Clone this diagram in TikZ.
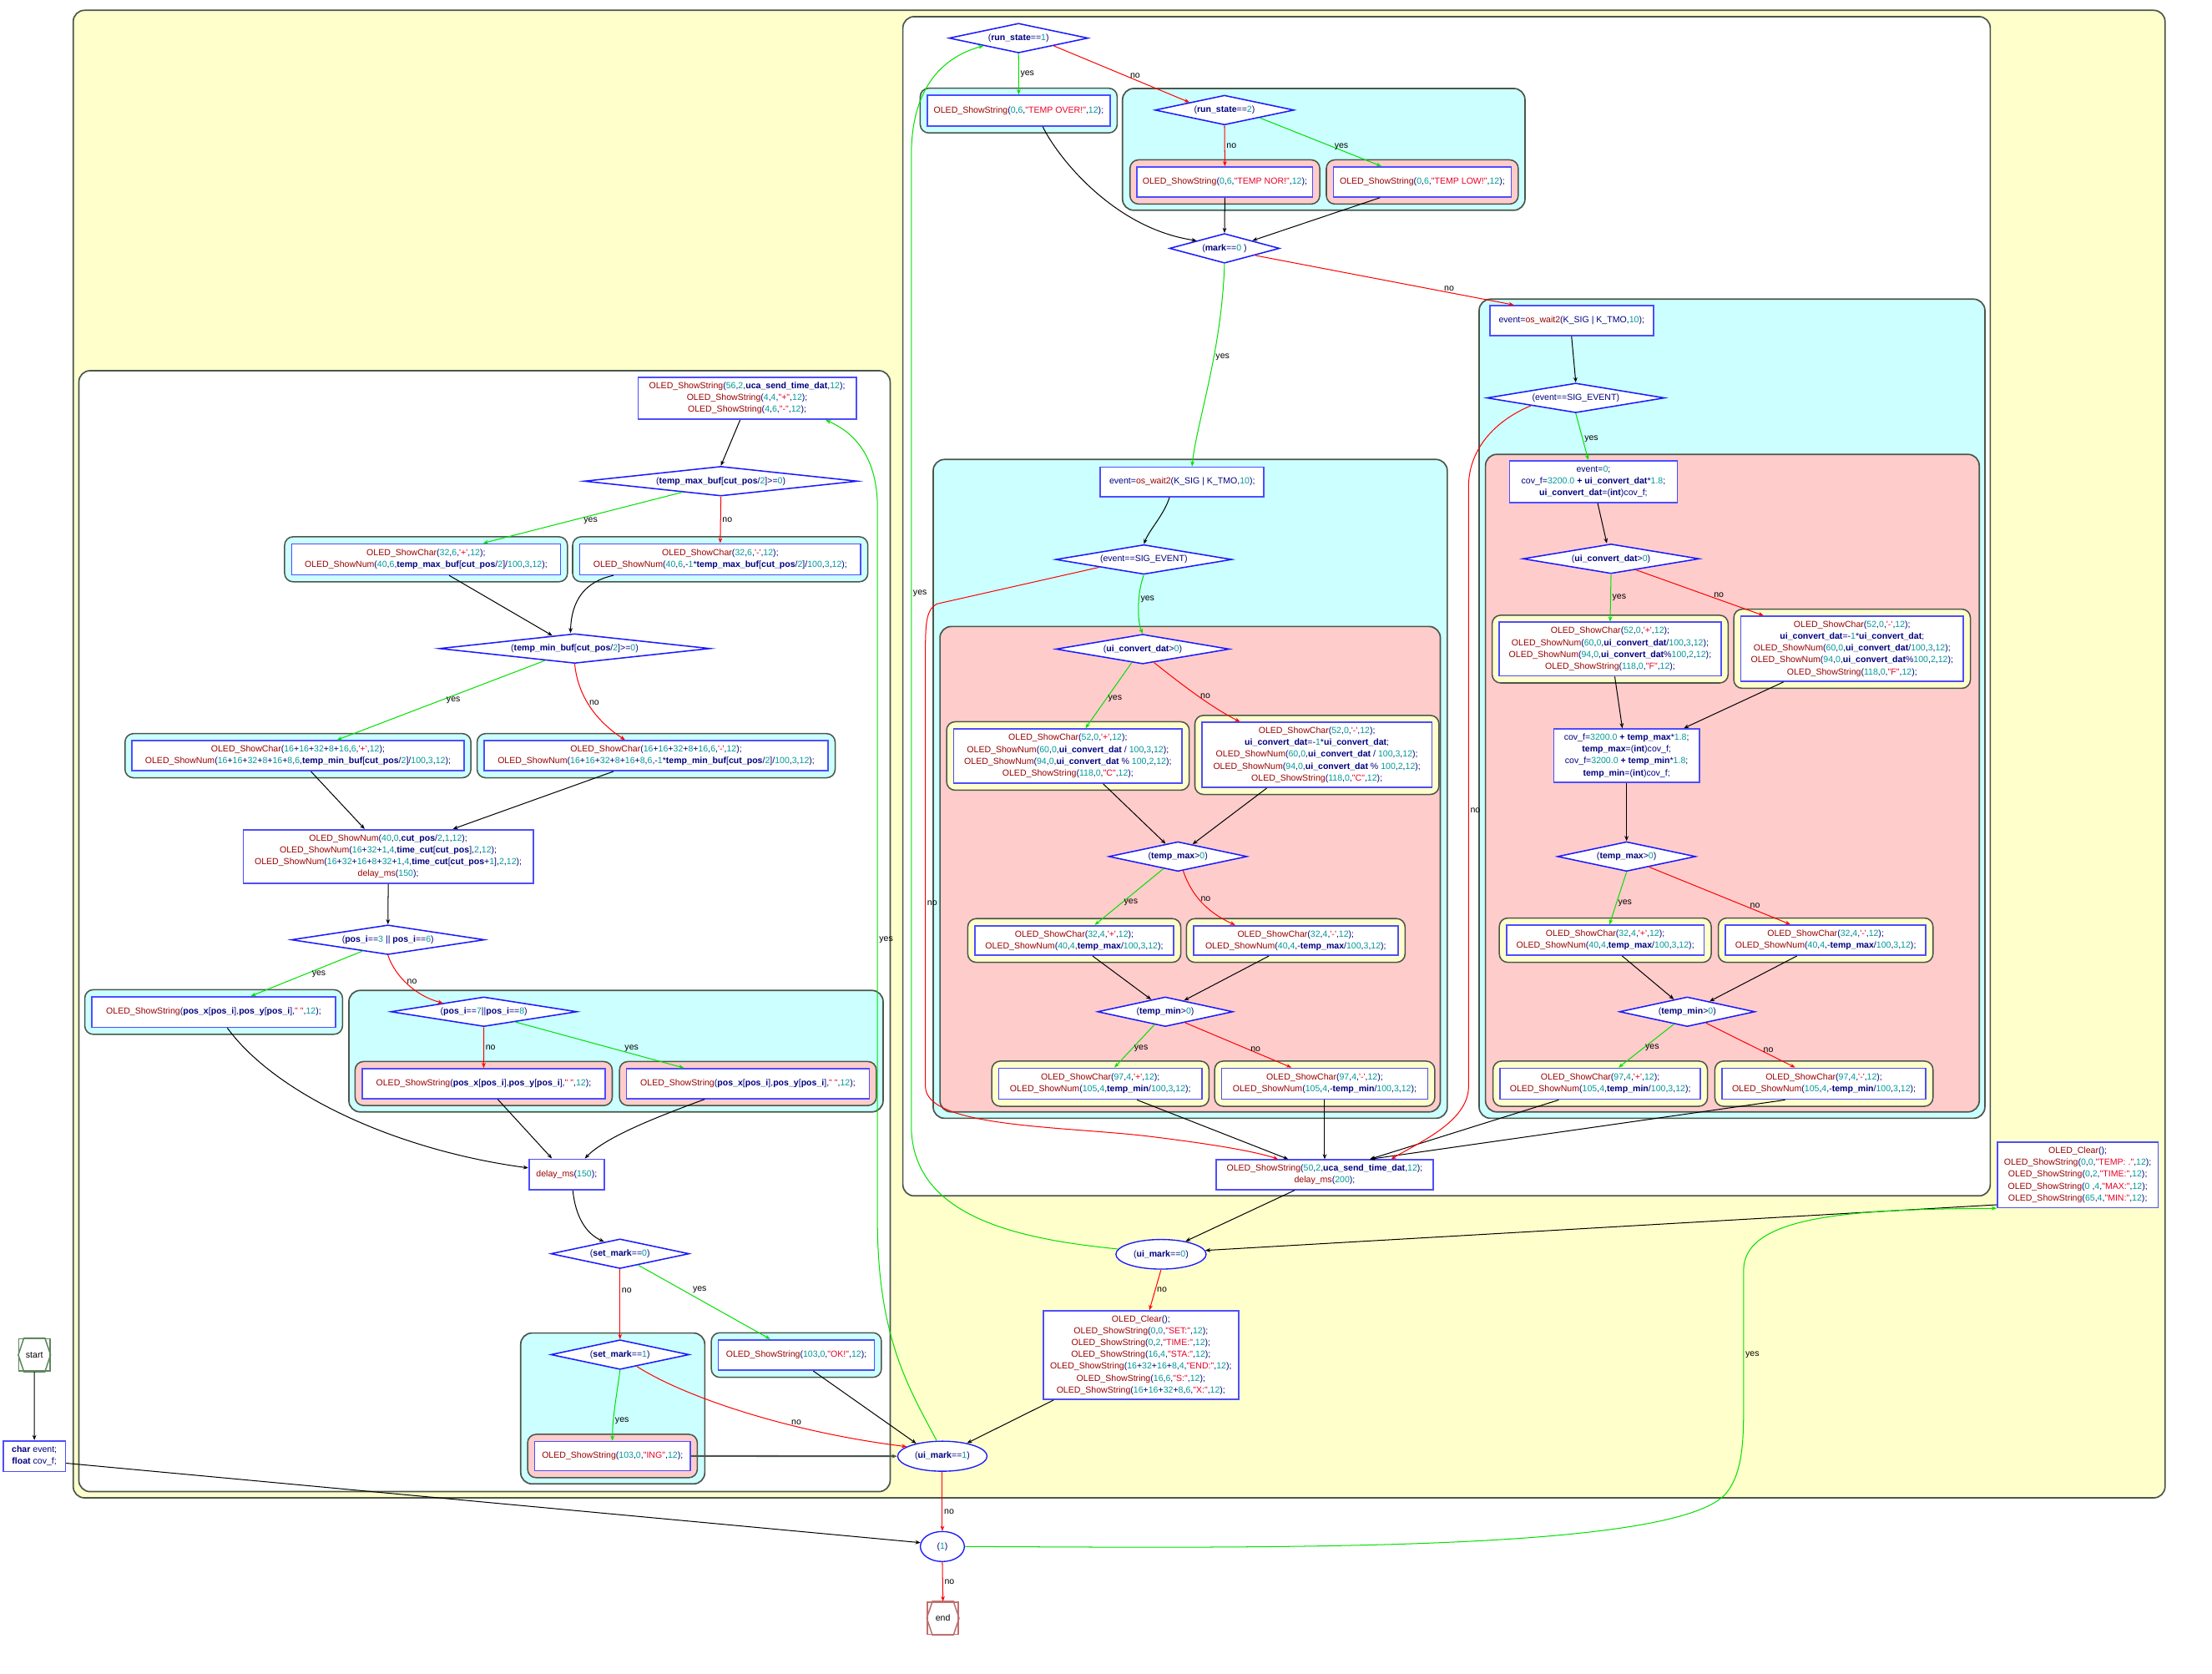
\documentclass[tikz,border=0pt]{standalone}
\usepackage{fontspec}
\setmainfont{Liberation Sans}[Ligatures=TeXOff]
\usepackage{xcolor}
\usepackage{tikz}
\usetikzlibrary{shapes.geometric,arrows.meta,positioning,fit,backgrounds}

\definecolor{yelbg}{HTML}{FFFFCC}
\definecolor{cyanbg}{HTML}{CCFFFF}
\definecolor{pinkbg}{HTML}{FFCCCC}
\definecolor{clusline}{HTML}{4A564A}
\definecolor{boxline}{HTML}{4D4DFF}
\definecolor{dialine}{HTML}{1A1AFF}
\definecolor{yesgreen}{HTML}{00E000}
\definecolor{nored}{HTML}{FF0000}
\definecolor{codetxt}{HTML}{000080}
\definecolor{codefn}{HTML}{990000}
\definecolor{codenum}{HTML}{009999}
\definecolor{codestr}{HTML}{E8002A}
\definecolor{startline}{HTML}{5F875F}
\definecolor{endline}{HTML}{C07070}

\newcommand\cf{\fontsize{6.25}{8.4}\selectfont}
\newcommand\cfn[1]{\textcolor{codefn}{#1}}
\newcommand\cnum[1]{\textcolor{codenum}{#1}}
\newcommand\cstr[1]{\textcolor{codestr}{#1}}
\newcommand\cvar[1]{\textbf{#1}}

\pgfdeclarelayer{back}
\pgfsetlayers{back,background,main}

\begin{document}
\begin{tikzpicture}[
  x=1pt, y=-1pt,
  box/.style={draw=boxline, fill=white, line width=1pt, inner sep=1pt, align=center, font=\cf, text=codetxt},
  wh/.style 2 args={minimum width=#1pt, minimum height=#2pt},
  dia/.style 2 args={diamond, draw=dialine, fill=white, line width=0.9pt, inner sep=0pt, font=\cf, text=codetxt, minimum width=#1pt, minimum height=21pt, aspect=#2},
  oval/.style 2 args={ellipse, draw=dialine, fill=white, line width=0.8pt, inner sep=0pt, font=\cf, text=codetxt, minimum width=#1pt, minimum height=#2pt},
  term/.style={draw=#1, fill=white, line width=0.9pt, inner sep=0pt, minimum width=22pt, minimum height=23pt, font=\cf},
  wcy/.style={fill=cyanbg, draw=clusline, line width=0.9pt, rounded corners=6pt, inner sep=4.5pt},
  wpk/.style={fill=pinkbg, draw=clusline, line width=0.9pt, rounded corners=6pt, inner sep=4.5pt},
  wye/.style={fill=yelbg, draw=clusline, line width=0.9pt, rounded corners=6pt, inner sep=4.5pt},
  outer/.style={fill=yelbg, draw=clusline, line width=1pt, rounded corners=8pt},
  inner/.style={fill=white, draw=clusline, line width=1pt, rounded corners=8pt},
  cyc/.style={fill=cyanbg, draw=clusline, line width=1pt, rounded corners=8pt},
  pkc/.style={fill=pinkbg, draw=clusline, line width=1pt, rounded corners=8pt},
  arr/.style={-{Stealth[length=3.6pt,width=2.8pt]}, line width=0.6pt},
  yarr/.style={arr, draw=yesgreen},
  narr/.style={arr, draw=nored},
  dkarr/.style={arr, draw=clusline, line width=1.2pt},
  lbl/.style={font=\cf, inner sep=1pt, text=black}
]
\useasboundingbox (0,0) rectangle (1568,1186);

% containers
\begin{pgfonlayer}{back}
  \draw[outer] (51.9,7.3) rectangle (1534.7,1061.5);
  \draw[inner] (640,11.8) rectangle (1410.8,847.5);
  \draw[inner] (55.9,262.7) rectangle (631,1057.1);
  \draw[cyc] (795.7,62.7) rectangle (1081,149);
  \draw[cyc] (661.5,325.6) rectangle (1025.9,792.5);
  \draw[pkc] (666.3,444) rectangle (1021,788);
  \draw[cyc] (1048.5,212) rectangle (1407,792.5);
  \draw[pkc] (1053,322) rectangle (1403,788);
  \draw[cyc] (247.3,701.9) rectangle (626,788);
  \draw[cyc] (369.1,944.7) rectangle (499.6,1051.6);
\end{pgfonlayer}

% run state
\node[dia={98.6}{4.7}] (rs1) at (722,27) {(\cvar{run\_state}==\cnum{1})};
\node[box, wh={129.6}{21.7}] (ovr) at (722.1,78.35) {\cfn{OLED\_ShowString}(\cnum{0},\cnum{6},\cstr{"TEMP OVER!"},\cnum{12});};
\node[dia={98.6}{4.7}] (rs2) at (868,78) {(\cvar{run\_state}==\cnum{2})};
\node[box, wh={124.5}{21.3}] (nor) at (868.25,128.95) {\cfn{OLED\_ShowString}(\cnum{0},\cnum{6},\cstr{"TEMP NOR!"},\cnum{12});};
\node[box, wh={126}{21.3}] (low) at (1008.2,128.95) {\cfn{OLED\_ShowString}(\cnum{0},\cnum{6},\cstr{"TEMP LOW!"},\cnum{12});};
\node[dia={78}{3.7}] (mk) at (868,176) {(\cvar{mark}==\cnum{0} )};

% middle column
\node[box, wh={116}{21}] (ewM) at (838,341.5) {event=\cfn{os\_wait2}(K\_SIG | K\_TMO,\cnum{10});};
\node[dia={125}{5.95}] (evM) at (810.8,396.5) {(event==SIG\_EVENT)};
\node[dia={123}{5.86}] (ucM) at (810,460) {(\cvar{ui\_convert\_dat}>\cnum{0})};
\node[box, wh={162}{38.5}] (ycM) at (757,535.75) {\cfn{OLED\_ShowChar}(\cnum{52},\cnum{0},\cstr{'+'},\cnum{12});\\
  \cfn{OLED\_ShowNum}(\cnum{60},\cnum{0},\cvar{ui\_convert\_dat} / \cnum{100},\cnum{3},\cnum{12});\\
  \cfn{OLED\_ShowNum}(\cnum{94},\cnum{0},\cvar{ui\_convert\_dat} \% \cnum{100},\cnum{2},\cnum{12});\\
  \cfn{OLED\_ShowString}(\cnum{118},\cnum{0},\cstr{"C"},\cnum{12});};
\node[box, wh={163}{46}] (ncM) at (933.5,535) {\cfn{OLED\_ShowChar}(\cnum{52},\cnum{0},\cstr{'-'},\cnum{12});\\
  \cvar{ui\_convert\_dat}=-\cnum{1}*\cvar{ui\_convert\_dat};\\
  \cfn{OLED\_ShowNum}(\cnum{60},\cnum{0},\cvar{ui\_convert\_dat} / \cnum{100},\cnum{3},\cnum{12});\\
  \cfn{OLED\_ShowNum}(\cnum{94},\cnum{0},\cvar{ui\_convert\_dat} \% \cnum{100},\cnum{2},\cnum{12});\\
  \cfn{OLED\_ShowString}(\cnum{118},\cnum{0},\cstr{"C"},\cnum{12});};
\node[dia={98}{4.67}] (tmaxM) at (835,607) {(\cvar{temp\_max}>\cnum{0})};
\node[box, wh={141}{21}] (ypM) at (761.5,666.5) {\cfn{OLED\_ShowChar}(\cnum{32},\cnum{4},\cstr{'+'},\cnum{12});\\
  \cfn{OLED\_ShowNum}(\cnum{40},\cnum{4},\cvar{temp\_max}/\cnum{100},\cnum{3},\cnum{12});};
\node[box, wh={145}{21}] (npM) at (918.5,666.5) {\cfn{OLED\_ShowChar}(\cnum{32},\cnum{4},\cstr{'-'},\cnum{12});\\
  \cfn{OLED\_ShowNum}(\cnum{40},\cnum{4},-\cvar{temp\_max}/\cnum{100},\cnum{3},\cnum{12});};
\node[dia={96}{4.57}] (tminM) at (826,717) {(\cvar{temp\_min}>\cnum{0})};
\node[box, wh={144}{22}] (ymM) at (780,768) {\cfn{OLED\_ShowChar}(\cnum{97},\cnum{4},\cstr{'+'},\cnum{12});\\
  \cfn{OLED\_ShowNum}(\cnum{105},\cnum{4},\cvar{temp\_min}/\cnum{100},\cnum{3},\cnum{12});};
\node[box, wh={146}{22}] (nmM) at (939,768) {\cfn{OLED\_ShowChar}(\cnum{97},\cnum{4},\cstr{'-'},\cnum{12});\\
  \cfn{OLED\_ShowNum}(\cnum{105},\cnum{4},-\cvar{temp\_min}/\cnum{100},\cnum{3},\cnum{12});};
\node[box, wh={154}{21}] (send) at (939,832.5) {\cfn{OLED\_ShowString}(\cnum{50},\cnum{2},\cvar{uca\_send\_time\_dat},\cnum{12});\\
  \cfn{delay\_ms}(\cnum{200});};

% right column
\node[box, wh={116}{21.3}] (ewR) at (1114,227.25) {event=\cfn{os\_wait2}(K\_SIG | K\_TMO,\cnum{10});};
\node[dia={126}{6}] (evR) at (1117,282) {(event==SIG\_EVENT)};
\node[box, wh={119}{29.5}] (e0) at (1129.5,341.25) {event=\cnum{0};\\
  cov\_f=\cnum{3200.0} \cvar{+} \cvar{ui\_convert\_dat}*\cnum{1.8};\\
  \cvar{ui\_convert\_dat}=(\cvar{int})cov\_f;};
\node[dia={125}{5.95}] (ucR) at (1142,396) {(\cvar{ui\_convert\_dat}>\cnum{0})};
\node[box, wh={157.3}{38}] (ycR) at (1141.35,460) {\cfn{OLED\_ShowChar}(\cnum{52},\cnum{0},\cstr{'+'},\cnum{12});\\
  \cfn{OLED\_ShowNum}(\cnum{60},\cnum{0},\cvar{ui\_convert\_dat}/\cnum{100},\cnum{3},\cnum{12});\\
  \cfn{OLED\_ShowNum}(\cnum{94},\cnum{0},\cvar{ui\_convert\_dat}\%\cnum{100},\cnum{2},\cnum{12});\\
  \cfn{OLED\_ShowString}(\cnum{118},\cnum{0},\cstr{"F"},\cnum{12});};
\node[box, wh={157.7}{46.1}] (ncR) at (1312.85,459.75) {\cfn{OLED\_ShowChar}(\cnum{52},\cnum{0},\cstr{'-'},\cnum{12});\\
  \cvar{ui\_convert\_dat}=-\cnum{1}*\cvar{ui\_convert\_dat};\\
  \cfn{OLED\_ShowNum}(\cnum{60},\cnum{0},\cvar{ui\_convert\_dat}/\cnum{100},\cnum{3},\cnum{12});\\
  \cfn{OLED\_ShowNum}(\cnum{94},\cnum{0},\cvar{ui\_convert\_dat}\%\cnum{100},\cnum{2},\cnum{12});\\
  \cfn{OLED\_ShowString}(\cnum{118},\cnum{0},\cstr{"F"},\cnum{12});};
\node[box, wh={103}{37.8}] (cov) at (1153,535.5) {cov\_f=\cnum{3200.0} \cvar{+} \cvar{temp\_max}*\cnum{1.8};\\
  \cvar{temp\_max}=(\cvar{int})cov\_f;\\
  cov\_f=\cnum{3200.0} \cvar{+} \cvar{temp\_min}*\cnum{1.8};\\
  \cvar{temp\_min}=(\cvar{int})cov\_f;};
\node[dia={98}{4.67}] (tmaxR) at (1153,607) {(\cvar{temp\_max}>\cnum{0})};
\node[box, wh={140.2}{21.4}] (ypR) at (1137.9,666.3) {\cfn{OLED\_ShowChar}(\cnum{32},\cnum{4},\cstr{'+'},\cnum{12});\\
  \cfn{OLED\_ShowNum}(\cnum{40},\cnum{4},\cvar{temp\_max}/\cnum{100},\cnum{3},\cnum{12});};
\node[box, wh={142.2}{21.4}] (npR) at (1294.1,666.3) {\cfn{OLED\_ShowChar}(\cnum{32},\cnum{4},\cstr{'-'},\cnum{12});\\
  \cfn{OLED\_ShowNum}(\cnum{40},\cnum{4},-\cvar{temp\_max}/\cnum{100},\cnum{3},\cnum{12});};
\node[dia={96}{4.57}] (tminR) at (1196,717) {(\cvar{temp\_min}>\cnum{0})};
\node[box, wh={142}{22}] (ymR) at (1134.35,768) {\cfn{OLED\_ShowChar}(\cnum{97},\cnum{4},\cstr{'+'},\cnum{12});\\
  \cfn{OLED\_ShowNum}(\cnum{105},\cnum{4},\cvar{temp\_min}/\cnum{100},\cnum{3},\cnum{12});};
\node[box, wh={144.6}{22}] (nmR) at (1292.9,768) {\cfn{OLED\_ShowChar}(\cnum{97},\cnum{4},\cstr{'-'},\cnum{12});\\
  \cfn{OLED\_ShowNum}(\cnum{105},\cnum{4},-\cvar{temp\_min}/\cnum{100},\cnum{3},\cnum{12});};

% left column
\node[box, wh={154.6}{29.9}] (topL) at (529.6,282.25) {\cfn{OLED\_ShowString}(\cnum{56},\cnum{2},\cvar{uca\_send\_time\_dat},\cnum{12});\\
  \cfn{OLED\_ShowString}(\cnum{4},\cnum{4},\cstr{"+"},\cnum{12});\\
  \cfn{OLED\_ShowString}(\cnum{4},\cnum{6},\cstr{"-"},\cnum{12});};
\node[dia={194}{9.24}] (tmb) at (511,341) {(\cvar{temp\_max\_buf}[\cvar{cut\_pos}/\cnum{2}]>=\cnum{0})};
\node[box, wh={190.5}{21.9}] (ypL) at (302,396.35) {\cfn{OLED\_ShowChar}(\cnum{32},\cnum{6},\cstr{'+'},\cnum{12});\\
  \cfn{OLED\_ShowNum}(\cnum{40},\cnum{6},\cvar{temp\_max\_buf}[\cvar{cut\_pos}/\cnum{2}]/\cnum{100},\cnum{3},\cnum{12});};
\node[box, wh={199.3}{21.9}] (npL) at (510.55,396.35) {\cfn{OLED\_ShowChar}(\cnum{32},\cnum{6},\cstr{'-'},\cnum{12});\\
  \cfn{OLED\_ShowNum}(\cnum{40},\cnum{6},-\cnum{1}*\cvar{temp\_max\_buf}[\cvar{cut\_pos}/\cnum{2}]/\cnum{100},\cnum{3},\cnum{12});};
\node[dia={192}{9.14}] (tnb) at (407.4,459.6) {(\cvar{temp\_min\_buf}[\cvar{cut\_pos}/\cnum{2}]>=\cnum{0})};
\node[box, wh={235.2}{21.3}] (ymL) at (211.2,535.55) {\cfn{OLED\_ShowChar}(\cnum{16}+\cnum{16}+\cnum{32}+\cnum{8}+\cnum{16},\cnum{6},\cstr{'+'},\cnum{12});\\
  \cfn{OLED\_ShowNum}(\cnum{16}+\cnum{16}+\cnum{32}+\cnum{8}+\cnum{16}+\cnum{8},\cnum{6},\cvar{temp\_min\_buf}[\cvar{cut\_pos}/\cnum{2}]/\cnum{100},\cnum{3},\cnum{12});};
\node[box, wh={243.8}{21.3}] (nmL) at (465.1,535.55) {\cfn{OLED\_ShowChar}(\cnum{16}+\cnum{16}+\cnum{32}+\cnum{8}+\cnum{16},\cnum{6},\cstr{'-'},\cnum{12});\\
  \cfn{OLED\_ShowNum}(\cnum{16}+\cnum{16}+\cnum{32}+\cnum{8}+\cnum{16}+\cnum{8},\cnum{6},-\cnum{1}*\cvar{temp\_min\_buf}[\cvar{cut\_pos}/\cnum{2}]/\cnum{100},\cnum{3},\cnum{12});};
\node[box, wh={205.6}{38}] (cut) at (275.2,607) {\cfn{OLED\_ShowNum}(\cnum{40},\cnum{0},\cvar{cut\_pos}/\cnum{2},\cnum{1},\cnum{12});\\
  \cfn{OLED\_ShowNum}(\cnum{16}+\cnum{32}+\cnum{1},\cnum{4},\cvar{time\_cut}[\cvar{cut\_pos}],\cnum{2},\cnum{12});\\
  \cfn{OLED\_ShowNum}(\cnum{16}+\cnum{32}+\cnum{16}+\cnum{8}+\cnum{32}+\cnum{1},\cnum{4},\cvar{time\_cut}[\cvar{cut\_pos}+\cnum{1}],\cnum{2},\cnum{12});\\
  \cfn{delay\_ms}(\cnum{150});};
\node[dia={137}{6.52}] (p36) at (275,666) {(\cvar{pos\_i}==\cnum{3} || \cvar{pos\_i}==\cnum{6})};
\node[box, wh={172.7}{21.6}] (posL) at (151.45,717.2) {\cfn{OLED\_ShowString}(\cvar{pos\_x}[\cvar{pos\_i}],\cvar{pos\_y}[\cvar{pos\_i}],\cstr{" "},\cnum{12});};
\node[dia={132}{6.29}] (p78) at (343,717) {(\cvar{pos\_i}==\cnum{7}||\cvar{pos\_i}==\cnum{8})};
\node[box, wh={172.3}{21.2}] (pn) at (342.85,767.9) {\cfn{OLED\_ShowString}(\cvar{pos\_x}[\cvar{pos\_i}],\cvar{pos\_y}[\cvar{pos\_i}],\cstr{" "},\cnum{12});};
\node[box, wh={172.1}{21.2}] (py) at (530.15,767.9) {\cfn{OLED\_ShowString}(\cvar{pos\_x}[\cvar{pos\_i}],\cvar{pos\_y}[\cvar{pos\_i}],\cstr{" "},\cnum{12});};
\node[box, wh={53.3}{21.8}] (delay) at (401.65,832.4) {\cfn{delay\_ms}(\cnum{150});};
\node[dia={98}{4.67}] (sm0) at (439.5,888.5) {(\cvar{set\_mark}==\cnum{0})};
\node[dia={98}{4.67}] (sm1) at (439.5,960) {(\cvar{set\_mark}==\cnum{1})};
\node[box, wh={110.3}{20.7}] (ing) at (434.15,1031.85) {\cfn{OLED\_ShowString}(\cnum{103},\cnum{0},\cstr{"ING"},\cnum{12});};
\node[box, wh={110.6}{21.6}] (okB) at (564.5,960.3) {\cfn{OLED\_ShowString}(\cnum{103},\cnum{0},\cstr{"OK!"},\cnum{12});};

% bottom
\node[oval={64}{21}] (ui0) at (823,888.9) {(\cvar{ui\_mark}==\cnum{0})};
\node[box, wh={138.5}{62.7}] (clr) at (808.75,960.35) {\cfn{OLED\_Clear}();\\
  \cfn{OLED\_ShowString}(\cnum{0},\cnum{0},\cstr{"SET:"},\cnum{12});\\
  \cfn{OLED\_ShowString}(\cnum{0},\cnum{2},\cstr{"TIME:"},\cnum{12});\\
  \cfn{OLED\_ShowString}(\cnum{16},\cnum{4},\cstr{"STA:"},\cnum{12});\\
  \cfn{OLED\_ShowString}(\cnum{16}+\cnum{32}+\cnum{16}+\cnum{8},\cnum{4},\cstr{"END:"},\cnum{12});\\
  \cfn{OLED\_ShowString}(\cnum{16},\cnum{6},\cstr{"S:"},\cnum{12});\\
  \cfn{OLED\_ShowString}(\cnum{16}+\cnum{16}+\cnum{32}+\cnum{8},\cnum{6},\cstr{"X:"},\cnum{12});};
\node[box, wh={114}{46.5}] (clrT) at (1472.8,832.55) {\cfn{OLED\_Clear}();\\
  \cfn{OLED\_ShowString}(\cnum{0},\cnum{0},\cstr{"TEMP: ."},\cnum{12});\\
  \cfn{OLED\_ShowString}(\cnum{0},\cnum{2},\cstr{"TIME:"},\cnum{12});\\
  \cfn{OLED\_ShowString}(\cnum{0} ,\cnum{4},\cstr{"MAX:"},\cnum{12});\\
  \cfn{OLED\_ShowString}(\cnum{65},\cnum{4},\cstr{"MIN:"},\cnum{12});};
\node[oval={63.4}{21.3}] (ui1) at (668,1032) {(\cvar{ui\_mark}==\cnum{1})};
\node[oval={31.2}{21.3}] (one) at (668,1096) {(\cnum{1})};
\node[term=endline] (en) at (668.4,1146.8) {end};
\node[term=startline] (st) at (24.4,960.2) {start};
\node[box, wh={44.1}{21.7}] (char) at (24.35,1031.95) {\cvar{char} event;\\\cvar{float} cov\_f;};
\draw[startline, line width=0.9pt] (st.west) -- ([xshift=4pt]st.north west) -- ([xshift=-4pt]st.north east) -- (st.east) -- ([xshift=-4pt]st.south east) -- ([xshift=4pt]st.south west) -- cycle;
\draw[endline, line width=0.9pt] (en.west) -- ([xshift=4pt]en.north west) -- ([xshift=-4pt]en.north east) -- (en.east) -- ([xshift=-4pt]en.south east) -- ([xshift=4pt]en.south west) -- cycle;

% wrappers
\begin{scope}[on background layer]
  \node[wcy, fit=(ovr)] (ovrW) {};
  \node[wpk, fit=(nor)] (norW) {};
  \node[wpk, fit=(low)] (lowW) {};
  \node[wye, fit=(ycM)] (ycMW) {};
  \node[wye, fit=(ncM)] (ncMW) {};
  \node[wye, fit=(ypM)] (ypMW) {};
  \node[wye, fit=(npM)] (npMW) {};
  \node[wye, fit=(ymM)] (ymMW) {};
  \node[wye, fit=(nmM)] (nmMW) {};
  \node[wye, fit=(ycR)] (ycRW) {};
  \node[wye, fit=(ncR)] (ncRW) {};
  \node[wye, fit=(ypR)] (ypRW) {};
  \node[wye, fit=(npR)] (npRW) {};
  \node[wye, fit=(ymR)] (ymRW) {};
  \node[wye, fit=(nmR)] (nmRW) {};
  \node[wcy, fit=(ypL)] (ypLW) {};
  \node[wcy, fit=(npL)] (npLW) {};
  \node[wcy, fit=(ymL)] (ymLW) {};
  \node[wcy, fit=(nmL)] (nmLW) {};
  \node[wcy, fit=(posL)] (posLW) {};
  \node[wpk, fit=(pn)] (pnW) {};
  \node[wpk, fit=(py)] (pyW) {};
  \node[wpk, fit=(ing)] (ingW) {};
  \node[wcy, fit=(okB)] (okBW) {};
\end{scope}

% top right
\draw[yarr] (rs1.south) -- node[lbl,right]{yes} (ovr.north);
\draw[narr] (rs1.south east) -- node[lbl,pos=.6,above]{no} (rs2.north west);
\draw[narr] (rs2.south) -- node[lbl,right]{no} (nor.north);
\draw[yarr] (rs2.south east) -- node[lbl,pos=.6,right]{yes} ([xshift=-29pt]low.north);
\draw[arr] ([xshift=17pt]ovr.south) .. controls (750,112) and (790,162) .. (mk.north west);
\draw[arr] (nor.south) -- (mk.north);
\draw[arr] ([xshift=-30pt]low.south) -- (mk.north east);
\draw[narr] (mk.347) -- node[lbl,pos=.75,above]{no} ([xshift=17.6pt]ewR.north west);
\draw[yarr] (mk.south) .. controls (866,250) and (848,300) .. node[lbl,pos=.38,right]{yes} ([xshift=7pt]ewM.north);

% middle column
\draw[arr] ([xshift=-9pt]ewM.south) .. controls (825,365) and (815,375) .. (evM.north);
\draw[yarr] (evM.south) .. controls (806,420) and (806,440) .. node[lbl,pos=.4,right]{yes} (ucM.north);
\draw[yarr] (ucM.231) -- node[lbl,pos=.55,right]{yes} ([xshift=12.5pt]ycM.north);
\draw[narr] (ucM.310) .. controls (840,487) and (860,502) .. node[lbl,pos=.5,right]{no} ([xshift=-54.5pt]ncM.north);
\draw[arr] ([xshift=25pt]ycM.south) -- (tmaxM.134);
\draw[arr] ([xshift=-35.5pt]ncM.south) -- (tmaxM.40);
\draw[yarr] (tmaxM.220) -- node[lbl,pos=.6,right]{yes} ([xshift=14.5pt]ypM.north);
\draw[narr] (tmaxM.290) .. controls (843,630) and (852,645) .. node[lbl,pos=.5,right]{no} ([xshift=-43pt]npM.north);
\draw[arr] ([xshift=13pt]ypM.south) -- (tminM.139);
\draw[arr] ([xshift=-19pt]npM.south) -- (tminM.31);
\draw[yarr] (tminM.230) -- node[lbl,pos=.55,right]{yes} ([xshift=10pt]ymM.north);
\draw[narr] (tminM.331) -- node[lbl,pos=.6,right]{no} ([xshift=-23.6pt]nmM.north);
\draw[arr] ([xshift=26pt]ymM.south) -- ([xshift=-25.8pt]send.north);
\draw[arr] (nmM.south) -- (send.north);
\draw[narr] (evM.south west) -- (664,428) .. controls (657,432) and (656,440) .. (656,460) -- node[lbl,pos=.58,right]{no} (656,770) .. controls (656,800) and (760,798) .. (820,806) .. controls (860,811) and (890,816) .. ([xshift=44.5pt]send.north west);

% right column
\draw[arr] (ewR.south) -- (evR.north);
\draw[yarr] (evR.south) -- node[lbl,pos=.55,right]{yes} ([xshift=-3.6pt]e0.north);
\draw[arr] ([xshift=3pt]e0.south) -- ([xshift=-3pt]ucR.north);
\draw[yarr] (ucR.south) -- node[lbl,right]{yes} (ycR.north);
\draw[narr] (ucR.336) -- node[lbl,pos=.65,above]{no} ([xshift=-62.8pt]ncR.north);
\draw[arr] ([xshift=3.3pt]ycR.south) -- ([xshift=-3pt]cov.north);
\draw[arr] ([xshift=-48.6pt]ncR.south) -- ([xshift=40.5pt]cov.north);
\draw[arr] (cov.south) -- (tmaxR.north);
\draw[yarr] (tmaxR.south) -- node[lbl,pos=.6,right]{yes} ([xshift=3pt]ypR.north);
\draw[narr] (tmaxR.335) -- node[lbl,pos=.75,above]{no} ([xshift=-25pt]npR.north);
\draw[arr] ([xshift=12pt]ypR.south) -- (tminR.137);
\draw[arr] ([xshift=-20.4pt]npR.south) -- (tminR.25);
\draw[yarr] (tminR.223) -- node[lbl,pos=.55,right]{yes} ([xshift=13pt]ymR.north);
\draw[narr] (tminR.329) -- node[lbl,pos=.7,above]{no} ([xshift=-20.4pt]nmR.north);
\draw[arr] ([xshift=-29.4pt]ymR.south) -- ([xshift=32pt]send.north);
\draw[arr] ([xshift=-27.5pt]nmR.south) -- ([xshift=32pt]send.north);
\draw[narr] (evR.south west) .. controls (1060,298) and (1041,318) .. (1041,345) -- node[lbl,pos=.54,right]{no} (1041,770) .. controls (1041,795) and (1005,810) .. ([xshift=-30.4pt]send.north east);

% left column
\draw[arr] ([xshift=-5pt]topL.south) -- (tmb.north);
\draw[yarr] (tmb.196) -- node[lbl,pos=.46,below]{yes} ([xshift=40.5pt]ypL.north);
\draw[narr] (tmb.south) -- node[lbl,right]{no} (npL.north);
\draw[arr] ([xshift=16.4pt]ypL.south) -- (tnb.150);
\draw[arr] ([xshift=-75.7pt]npL.south) .. controls (415,412) and (405,425) .. ([xshift=-3pt]tnb.north);
\draw[yarr] (tnb.202) -- node[lbl,pos=.44,below]{yes} ([xshift=27.7pt]ymL.north);
\draw[narr] (tnb.south) .. controls (409,488) and (418,508) .. node[lbl,pos=.5,right]{no} ([xshift=-22pt]nmL.north);
\draw[arr] ([xshift=9.2pt]ymL.south) -- ([xshift=-16.7pt]cut.north);
\draw[arr] ([xshift=-30.2pt]nmL.south) -- ([xshift=45.8pt]cut.north);
\draw[arr] (cut.south) -- (p36.north);
\draw[yarr] (p36.204) -- node[lbl,pos=.39,below]{yes} ([xshift=26.4pt]posL.north);
\draw[narr] (p36.south) .. controls (280,692) and (295,706) .. node[lbl,pos=.45,right]{no} (p78.168);
\draw[narr] (p78.south) -- node[lbl,right]{no} (pn.north);
\draw[yarr] (p78.342) -- node[lbl,pos=.69,above]{yes} ([xshift=-45.4pt]py.north);
\draw[arr] ([xshift=9.7pt]posL.south) .. controls (195,775) and (280,815) .. ([yshift=4.7pt]delay.west);
\draw[arr] ([xshift=9.9pt]pn.south) -- ([xshift=-10.4pt]delay.north);
\draw[arr] ([xshift=-30.6pt]py.south) .. controls (470,790) and (430,805) .. ([xshift=12.9pt]delay.north);
\draw[arr] ([xshift=4.4pt]delay.south) .. controls (408,862) and (415,874) .. (sm0.143);
\draw[narr] (sm0.south) -- node[lbl,pos=.31,right]{no} (sm1.north);
\draw[yarr] (sm0.328) -- node[lbl,pos=.4,above right]{yes} ([xshift=-18.6pt]okB.north);
\draw[yarr] (sm1.south) .. controls (437,990) and (434,1005) .. node[lbl,pos=.7,right]{yes} (ing.north);
\draw[narr] (sm1.325) .. controls (485,990) and (560,1015) .. node[lbl,pos=.67,above]{no} (ui1.165);
\draw[dkarr] (ing.east) -- (ui1.west);
\draw[arr] ([xshift=12pt]okB.south) -- (ui1.154);

% bottom
\draw[arr] ([xshift=-21.2pt]send.south) -- (ui0.28);
\draw[arr] ([yshift=2.5pt]clrT.south west) -- (ui0.5);
\draw[narr] (ui0.south) -- node[lbl,pos=.5,right]{no} ([xshift=6pt]clr.north);
\draw[arr] ([xshift=-61.9pt]clr.south) -- (ui1.28);
\draw[narr] (ui1.south) -- node[lbl,pos=.68,right]{no} (one.north);
\draw[narr] (one.south) -- node[lbl,right]{no} (en.north);
\draw[arr] (st.south) -- (char.north);
\draw[arr] ([yshift=-5pt]char.east) -- (one.170);
\draw[yarr] (ui0.173) .. controls (720,878) and (648,862) .. (646,800) -- node[lbl,pos=.55,right]{yes} (646,110) .. controls (646,60) and (670,40) .. (rs1.south west);
\draw[yarr] (ui1.110) .. controls (645,985) and (623,950) .. (622,870) -- node[lbl,pos=.4,right]{yes} (622,360) .. controls (622,320) and (602,305) .. ([xshift=-22pt]topL.south east);
\draw[yarr] (one.east) .. controls (900,1097) and (1180,1100) .. (1222,1060) .. controls (1236,1045) and (1236,1020) .. (1236,990) -- node[lbl,pos=.33,right]{yes} (1236,900) .. controls (1236,860) and (1320,857) .. (clrT.south west);
\end{tikzpicture}
\end{document}
